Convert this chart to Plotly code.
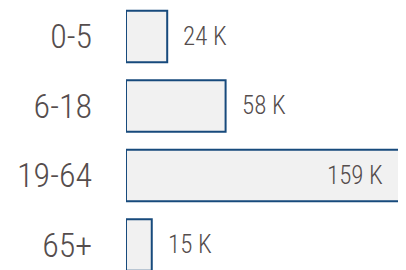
import plotly.graph_objects as go

categories = ["0-5", "6-18", "19-64", "65+"]
values = [24, 58, 159, 15]  # thousands
value_labels = ["24 K", "58 K", "159 K", "15 K"]

FONT = "Roboto Condensed, Liberation Sans Narrow, Arial Narrow, sans-serif"
TEXT_COLOR = "#554d4d"

fig = go.Figure(
    go.Bar(
        y=categories,
        x=values,
        orientation="h",
        marker=dict(color="#f1f1f1", line=dict(color="#174a7c", width=2)),
        hoverinfo="skip",
    )
)

inside_threshold = 100
for cat, v, lab in zip(categories, values, value_labels):
    inside = v > inside_threshold
    fig.add_annotation(
        x=v, y=cat, xref="x", yref="y",
        text=lab, showarrow=False,
        xanchor="right" if inside else "left",
        xshift=-14 if inside else 14,
        font=dict(family=FONT, size=25, color=TEXT_COLOR, weight=300),
    )

# page body has an 8px default margin, so the figure is sized to fit the 406x270 window
fig.update_layout(
    width=398, height=262,
    margin=dict(l=118, r=0, t=0, b=0),
    paper_bgcolor="white", plot_bgcolor="white",
    bargap=0.26,
    showlegend=False,
    xaxis=dict(range=[0, 163.07], visible=False, fixedrange=True, automargin=False),
    yaxis=dict(
        categoryorder="array", categoryarray=categories,
        range=[3.36, -0.41],
        showgrid=False, zeroline=False, showline=False, ticks="",
        ticklabelstandoff=33, automargin=False,
        tickfont=dict(family=FONT, size=34, color=TEXT_COLOR, weight=300),
        fixedrange=True,
    ),
)

fig.write_html("out.html")
